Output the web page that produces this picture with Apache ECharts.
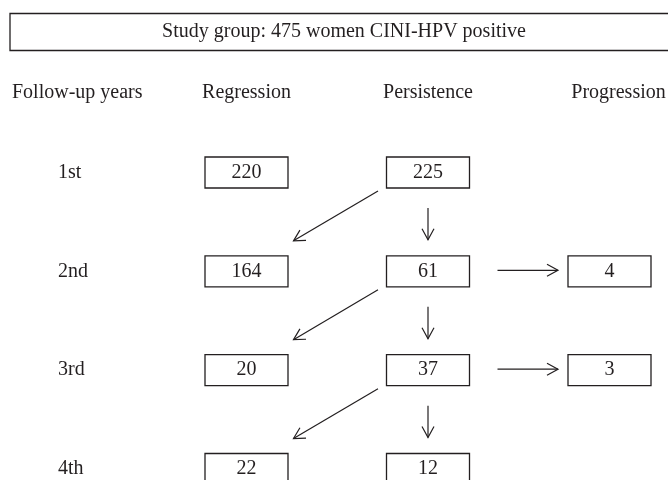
<!DOCTYPE html>
<html>
<head>
<meta charset="utf-8">
<script src="https://cdn.jsdelivr.net/npm/echarts@6/dist/echarts.min.js"></script>
<style>
  html, body { margin: 0; padding: 0; background: #fff; }
  #chart { width: 668px; height: 480px; }
</style>
</head>
<body>
<div id="chart"></div>
<script>
// Flow data
const titleText = 'Study group: 475 women CINI-HPV positive'
const columns = ['Follow-up years', 'Regression', 'Persistence', 'Progression']
const years = ['1st', '2nd', '3rd', '4th']
const regression = [220, 164, 20, 22]
const persistence = [225, 61, 37, 12]
const progression = [null, 4, 3, null]

// Layout / style
const FONT = '20px "Liberation Serif", "DejaVu Serif", serif'
const INK = '#231f20'
const BOX_W = 83
const BOX_H = 31
const HEADER_ROW = -0.81
const HEAD_LEN = 11
const HEAD_HALF = 6

const COL_REG = 1
const COL_PER = 2
const COL_PRO = 3

// Boxes: [col, row, value]
const boxData = []
regression.forEach((v, i) => boxData.push([COL_REG, i, v]))
persistence.forEach((v, i) => boxData.push([COL_PER, i, v]))
progression.forEach((v, i) => { if (v !== null) boxData.push([COL_PRO, i, v]) })

// Labels: [col, row, text, kind]
const labelData = []
columns.forEach((c, i) => labelData.push([i, HEADER_ROW, c, 'header']))
years.forEach((y, i) => labelData.push([0, i, y, 'year']))

// Arrows: [fromCol, fromRow, toCol, toRow, kind]
const arrowData = []
for (let i = 0; i < years.length - 1; i++) {
  arrowData.push([COL_PER, i, COL_REG, i + 1, 'diag'])
  arrowData.push([COL_PER, i, COL_PER, i + 1, 'down'])
}
progression.forEach((v, i) => { if (v !== null) arrowData.push([COL_PER, i, COL_PRO, i, 'right']) })

const arrowHead = (x1, y1, x2, y2) => {
  const a = Math.atan2(y2 - y1, x2 - x1)
  const ux = Math.cos(a), uy = Math.sin(a)
  return [
    [x2 - HEAD_LEN * ux - HEAD_HALF * uy, y2 - HEAD_LEN * uy + HEAD_HALF * ux],
    [x2, y2],
    [x2 - HEAD_LEN * ux + HEAD_HALF * uy, y2 - HEAD_LEN * uy - HEAD_HALF * ux],
  ]
}

const chart = echarts.init(document.getElementById('chart'), null, { renderer: 'canvas' })

const option = {
  backgroundColor: '#fff',
  animation: false,
  grid: { left: 65, right: 58.5, top: 172.5, bottom: 11 },
  xAxis: { type: 'value', min: 0, max: 3, show: false },
  yAxis: { type: 'value', min: 0, max: 3, inverse: true, show: false },
  graphic: [
    {
      type: 'group',
      children: [
        {
          type: 'rect',
          shape: { x: 10, y: 13.5, width: 660, height: 37 },
          style: { fill: '#fff', stroke: INK, lineWidth: 1.3 },
        },
        {
          type: 'text',
          x: 344,
          y: 32,
          style: {
            text: titleText,
            font: FONT,
            fill: INK,
            align: 'center',
            verticalAlign: 'middle',
          },
        },
      ],
    },
  ],
  series: [
    {
      type: 'custom',
      name: 'labels',
      clip: false,
      encode: { x: 0, y: 1 },
      data: labelData,
      renderItem: (params, api) => {
        const col = api.value(0)
        const p = api.coord([col, api.value(1)])
        const kind = labelData[params.dataIndex][3]
        let x = p[0]
        let align = 'center'
        if (col === 0) {
          align = 'left'
          x = kind === 'header' ? p[0] - 53 : p[0] - 7
        } else if (col === COL_PRO && kind === 'header') {
          x = p[0] + 9
        }
        return {
          type: 'text',
          x: x,
          y: p[1],
          style: {
            text: labelData[params.dataIndex][2],
            font: FONT,
            fill: INK,
            align: align,
            verticalAlign: 'middle',
          },
        }
      },
    },
    {
      type: 'custom',
      name: 'boxes',
      clip: false,
      encode: { x: 0, y: 1 },
      data: boxData,
      renderItem: (params, api) => {
        const p = api.coord([api.value(0), api.value(1)])
        return {
          type: 'group',
          children: [
            {
              type: 'rect',
              shape: { x: p[0] - BOX_W / 2, y: p[1] - BOX_H / 2, width: BOX_W, height: BOX_H },
              style: { fill: '#fff', stroke: INK, lineWidth: 1.3 },
            },
            {
              type: 'text',
              x: p[0],
              y: p[1],
              style: {
                text: String(api.value(2)),
                font: FONT,
                fill: INK,
                align: 'center',
                verticalAlign: 'middle',
              },
            },
          ],
        }
      },
    },
    {
      type: 'custom',
      name: 'arrows',
      clip: false,
      encode: { x: [0, 2], y: [1, 3] },
      data: arrowData,
      renderItem: (params, api) => {
        const a = api.coord([api.value(0), api.value(1)])
        const b = api.coord([api.value(2), api.value(3)])
        const kind = arrowData[params.dataIndex][4]
        let x1, y1, x2, y2
        if (kind === 'down') {
          x1 = a[0]; y1 = a[1] + BOX_H / 2 + 20
          x2 = b[0]; y2 = b[1] - BOX_H / 2 - 16
        } else if (kind === 'diag') {
          x1 = a[0] - 50; y1 = a[1] + BOX_H / 2 + 3
          x2 = b[0] + 47; y2 = b[1] - BOX_H / 2 - 15
        } else {
          x1 = a[0] + BOX_W / 2 + 28; y1 = a[1] - 1
          x2 = b[0] - BOX_W / 2 - 10; y2 = b[1] - 1
        }
        const lineStyle = { stroke: INK, lineWidth: 1.2, fill: null }
        return {
          type: 'group',
          children: [
            { type: 'line', shape: { x1, y1, x2, y2 }, style: lineStyle },
            { type: 'polyline', shape: { points: arrowHead(x1, y1, x2, y2) }, style: lineStyle },
          ],
        }
      },
    },
  ],
}

chart.setOption(option)
</script>
</body>
</html>
